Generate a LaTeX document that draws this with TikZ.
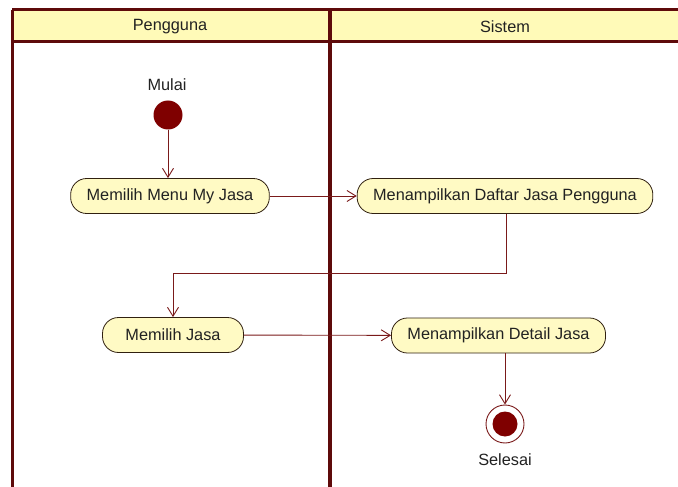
\documentclass[tikz,border=0pt]{standalone}
\usepackage{fontspec}
\setmainfont{Liberation Sans}
\usetikzlibrary{arrows.meta}
\definecolor{lane}{HTML}{5E0A0A}
\definecolor{headfill}{HTML}{FFFAB8}
\definecolor{actfill}{HTML}{FFFAC4}
\definecolor{flow}{HTML}{7A1A1A}
\definecolor{dot}{HTML}{7F0000}
\definecolor{ink}{HTML}{222222}
\tikzset{
  x=1pt, y=-1pt,
  every node/.style={font=\fontsize{16.3}{18}\selectfont, text=ink},
  action/.style={draw=black!75!brown, line width=0.8pt, fill=actfill,
    rounded corners=16pt, minimum height=35pt, inner xsep=16pt, inner ysep=0pt},
  flowline/.style={draw=flow, line width=0.9pt,
    -{Straight Barb[length=9pt,width=11pt,line width=0.9pt]}},
  lanerule/.style={draw=lane},
}
\begin{document}
\begin{tikzpicture}
\useasboundingbox (0,0) rectangle (678,487);
\fill[white] (0,0) rectangle (678,487);

% swimlane header
\fill[headfill] (12,10) rectangle (678,42);
\draw[lanerule, line width=3pt] (12,10) -- (678,10);
\draw[lanerule, line width=3pt] (12,42) -- (678,42);
\draw[lanerule, line width=3pt] (12,10) -- (12,487);
\draw[lanerule, line width=4.5pt] (330,10) -- (330,487);
\node (hUser) at (170,27) {Pengguna};
\node (hSys) at (505,27) {Sistem};

% start
\node[circle, fill=dot, minimum size=29pt, inner sep=0pt] (start) at (168,115) {};
\node (startlbl) at (167,85) {Mulai};

% actions
\node[action] (menu) at (170,196) {Memilih Menu My Jasa};
\node[action] (daftar) at (505,196) {Menampilkan Daftar Jasa Pengguna};
\node[action, minimum width=141pt] (jasa) at (173,335) {Memilih Jasa};
\node[action] (detail) at (498.5,335.5) {Menampilkan Detail Jasa};

% end
\node[circle, draw=flow, line width=0.9pt, fill=white, minimum size=38pt, inner sep=0pt] (end) at (505,424) {};
\node[circle, fill=dot, minimum size=25pt, inner sep=0pt] (endin) at (end.center) {};
\node (endlbl) at (505,460) {Selesai};

% flows
\draw[flowline] (start) -- (start |- menu.north);
\draw[flowline] (menu) -- (daftar);
\coordinate (bendA) at (506,273);
\coordinate (bendB) at (173,273);
\draw[flowline] (daftar.south -| bendA) -- (bendA) -- (bendB) -- (jasa.north -| bendB);
\draw[flowline] (jasa) -- (detail);
\draw[flowline] (detail.south -| end) -- (end);
\end{tikzpicture}
\end{document}
